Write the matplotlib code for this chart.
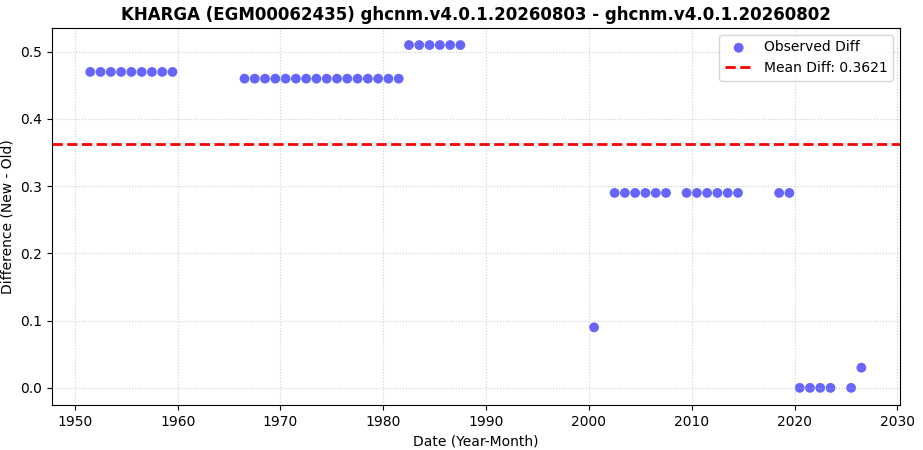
import numpy as np
import matplotlib.pyplot as plt

# 관측 차이 데이터 (연도-월을 소수 연도로)
years = [1951.5, 1952.5, 1953.5, 1954.5, 1955.5, 1956.5, 1957.5, 1958.5, 1959.5,
         1966.5, 1967.5, 1968.5, 1969.5, 1970.5, 1971.5, 1972.5, 1973.5,
         1974.5, 1975.5, 1976.5, 1977.5, 1978.5, 1979.5, 1980.5, 1981.5,
         1982.5, 1983.5, 1984.5, 1985.5, 1986.5, 1987.5,
         2000.5,
         2002.5, 2003.5, 2004.5, 2005.5, 2006.5, 2007.5,
         2009.5, 2010.5, 2011.5, 2012.5, 2013.5, 2014.5,
         2018.5, 2019.5,
         2020.5, 2021.5, 2022.5, 2023.5, 2025.5, 2026.5]
diffs = [0.47] * 9 + [0.46] * 16 + [0.51] * 6 + [0.09] + [0.29] * 14 + [0.0] * 5 + [0.03]

mean_diff = np.mean(diffs)

fig = plt.figure(figsize=(9.23, 4.5), dpi=100)
plt.scatter(years, diffs, color='blue', alpha=0.6, s=50, edgecolors='none', label='Observed Diff')
plt.axhline(mean_diff, color='red', linestyle='--', linewidth=2, label=f'Mean Diff: {mean_diff:.4f}')
plt.title('KHARGA (EGM00062435) ghcnm.v4.0.1.20260803 - ghcnm.v4.0.1.20260802', fontweight='bold')
plt.xlabel('Date (Year-Month)')
plt.ylabel('Difference (New - Old)')
plt.legend(loc='upper right')
plt.grid(True, linestyle=':', alpha=0.6)
fig.subplots_adjust(left=0.056, right=0.975, top=0.938, bottom=0.1)
plt.savefig('out.png', dpi=100)
